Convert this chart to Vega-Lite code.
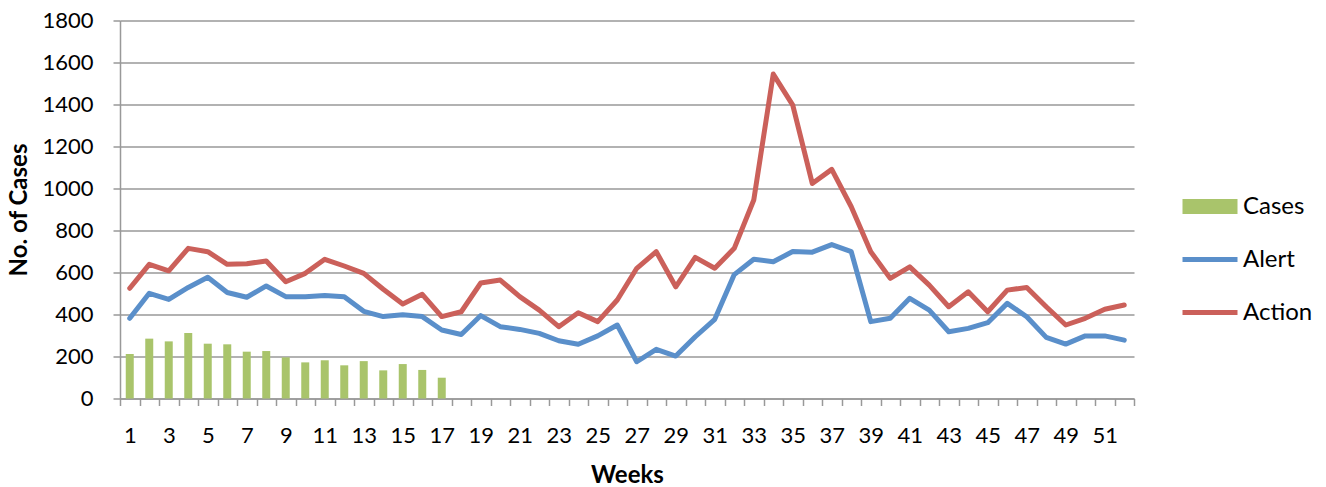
{
  "$schema": "https://vega.github.io/schema/vega-lite/v6.json",
  "width": 1014,
  "height": 378,
  "autosize": {"type": "none"},
  "padding": {"left": 120, "top": 20.5, "right": 192, "bottom": 88.5},
  "config": {
    "view": {"stroke": null},
    "font": "Lato",
    "axis": {"labelFont": "Lato", "titleFont": "Lato", "labelColor": "#000000", "titleColor": "#000000"}
  },
  "data": {
    "values": [
      {"week": 1, "series": "Cases", "value": 212},
      {"week": 2, "series": "Cases", "value": 285},
      {"week": 3, "series": "Cases", "value": 272},
      {"week": 4, "series": "Cases", "value": 312},
      {"week": 5, "series": "Cases", "value": 261},
      {"week": 6, "series": "Cases", "value": 258},
      {"week": 7, "series": "Cases", "value": 223},
      {"week": 8, "series": "Cases", "value": 226},
      {"week": 9, "series": "Cases", "value": 196},
      {"week": 10, "series": "Cases", "value": 172},
      {"week": 11, "series": "Cases", "value": 182},
      {"week": 12, "series": "Cases", "value": 158},
      {"week": 13, "series": "Cases", "value": 178},
      {"week": 14, "series": "Cases", "value": 134},
      {"week": 15, "series": "Cases", "value": 164},
      {"week": 16, "series": "Cases", "value": 136},
      {"week": 17, "series": "Cases", "value": 99},
      {"week": 1, "series": "Alert", "value": 382},
      {"week": 2, "series": "Alert", "value": 501},
      {"week": 3, "series": "Alert", "value": 472},
      {"week": 4, "series": "Alert", "value": 529},
      {"week": 5, "series": "Alert", "value": 577},
      {"week": 6, "series": "Alert", "value": 505},
      {"week": 7, "series": "Alert", "value": 482},
      {"week": 8, "series": "Alert", "value": 536},
      {"week": 9, "series": "Alert", "value": 485},
      {"week": 10, "series": "Alert", "value": 485},
      {"week": 11, "series": "Alert", "value": 491},
      {"week": 12, "series": "Alert", "value": 485},
      {"week": 13, "series": "Alert", "value": 415},
      {"week": 14, "series": "Alert", "value": 390},
      {"week": 15, "series": "Alert", "value": 399},
      {"week": 16, "series": "Alert", "value": 390},
      {"week": 17, "series": "Alert", "value": 326},
      {"week": 18, "series": "Alert", "value": 305},
      {"week": 19, "series": "Alert", "value": 395},
      {"week": 20, "series": "Alert", "value": 342},
      {"week": 21, "series": "Alert", "value": 329},
      {"week": 22, "series": "Alert", "value": 310},
      {"week": 23, "series": "Alert", "value": 275},
      {"week": 24, "series": "Alert", "value": 258},
      {"week": 25, "series": "Alert", "value": 298},
      {"week": 26, "series": "Alert", "value": 350},
      {"week": 27, "series": "Alert", "value": 175},
      {"week": 28, "series": "Alert", "value": 234},
      {"week": 29, "series": "Alert", "value": 202},
      {"week": 30, "series": "Alert", "value": 294},
      {"week": 31, "series": "Alert", "value": 377},
      {"week": 32, "series": "Alert", "value": 590},
      {"week": 33, "series": "Alert", "value": 663},
      {"week": 34, "series": "Alert", "value": 651},
      {"week": 35, "series": "Alert", "value": 700},
      {"week": 36, "series": "Alert", "value": 697},
      {"week": 37, "series": "Alert", "value": 733},
      {"week": 38, "series": "Alert", "value": 699},
      {"week": 39, "series": "Alert", "value": 366},
      {"week": 40, "series": "Alert", "value": 382},
      {"week": 41, "series": "Alert", "value": 477},
      {"week": 42, "series": "Alert", "value": 421},
      {"week": 43, "series": "Alert", "value": 318},
      {"week": 44, "series": "Alert", "value": 334},
      {"week": 45, "series": "Alert", "value": 361},
      {"week": 46, "series": "Alert", "value": 453},
      {"week": 47, "series": "Alert", "value": 389},
      {"week": 48, "series": "Alert", "value": 291},
      {"week": 49, "series": "Alert", "value": 259},
      {"week": 50, "series": "Alert", "value": 298},
      {"week": 51, "series": "Alert", "value": 298},
      {"week": 52, "series": "Alert", "value": 278},
      {"week": 1, "series": "Action", "value": 525},
      {"week": 2, "series": "Action", "value": 639},
      {"week": 3, "series": "Action", "value": 608},
      {"week": 4, "series": "Action", "value": 715},
      {"week": 5, "series": "Action", "value": 699},
      {"week": 6, "series": "Action", "value": 639},
      {"week": 7, "series": "Action", "value": 642},
      {"week": 8, "series": "Action", "value": 655},
      {"week": 9, "series": "Action", "value": 556},
      {"week": 10, "series": "Action", "value": 596},
      {"week": 11, "series": "Action", "value": 663},
      {"week": 12, "series": "Action", "value": 631},
      {"week": 13, "series": "Action", "value": 596},
      {"week": 14, "series": "Action", "value": 520},
      {"week": 15, "series": "Action", "value": 450},
      {"week": 16, "series": "Action", "value": 496},
      {"week": 17, "series": "Action", "value": 390},
      {"week": 18, "series": "Action", "value": 413},
      {"week": 19, "series": "Action", "value": 550},
      {"week": 20, "series": "Action", "value": 564},
      {"week": 21, "series": "Action", "value": 485},
      {"week": 22, "series": "Action", "value": 421},
      {"week": 23, "series": "Action", "value": 342},
      {"week": 24, "series": "Action", "value": 408},
      {"week": 25, "series": "Action", "value": 366},
      {"week": 26, "series": "Action", "value": 469},
      {"week": 27, "series": "Action", "value": 620},
      {"week": 28, "series": "Action", "value": 699},
      {"week": 29, "series": "Action", "value": 532},
      {"week": 30, "series": "Action", "value": 672},
      {"week": 31, "series": "Action", "value": 620},
      {"week": 32, "series": "Action", "value": 715},
      {"week": 33, "series": "Action", "value": 945},
      {"week": 34, "series": "Action", "value": 1545},
      {"week": 35, "series": "Action", "value": 1397},
      {"week": 36, "series": "Action", "value": 1024},
      {"week": 37, "series": "Action", "value": 1091},
      {"week": 38, "series": "Action", "value": 913},
      {"week": 39, "series": "Action", "value": 699},
      {"week": 40, "series": "Action", "value": 572},
      {"week": 41, "series": "Action", "value": 627},
      {"week": 42, "series": "Action", "value": 540},
      {"week": 43, "series": "Action", "value": 437},
      {"week": 44, "series": "Action", "value": 508},
      {"week": 45, "series": "Action", "value": 413},
      {"week": 46, "series": "Action", "value": 516},
      {"week": 47, "series": "Action", "value": 529},
      {"week": 48, "series": "Action", "value": 437},
      {"week": 49, "series": "Action", "value": 350},
      {"week": 50, "series": "Action", "value": 382},
      {"week": 51, "series": "Action", "value": 425},
      {"week": 52, "series": "Action", "value": 445}
    ]
  },
  "encoding": {
    "x": {
      "field": "week",
      "type": "ordinal",
      "scale": {"paddingInner": 0, "paddingOuter": 0},
      "axis": {
        "title": "Weeks",
        "titleFontSize": 24,
        "titleFontWeight": "bold",
        "titleY": 77,
        "titleBaseline": "middle",
        "labelFontSize": 22,
        "labelAngle": 0,
        "labelPadding": 20,
        "labelOverlap": false,
        "labelExpr": "datum.value % 2 == 1 ? datum.label : ''",
        "tickBand": "extent",
        "tickSize": 7,
        "tickColor": "#999999",
        "tickWidth": 1.5,
        "domainColor": "#999999",
        "domainWidth": 1.5,
        "grid": false
      }
    },
    "y": {
      "field": "value",
      "type": "quantitative",
      "scale": {"domain": [0, 1800]},
      "axis": {
        "title": "No. of Cases",
        "titleFontSize": 24,
        "titleFontWeight": "bold",
        "titleX": -101,
        "titleBaseline": "middle",
        "format": "d",
        "values": [0, 200, 400, 600, 800, 1000, 1200, 1400, 1600, 1800],
        "labelFontSize": 22,
        "labelPadding": 20,
        "tickSize": 7,
        "tickColor": "#999999",
        "tickWidth": 1.5,
        "domainColor": "#999999",
        "domainWidth": 1.5,
        "grid": true,
        "gridColor": "#999999",
        "gridWidth": 1.5
      }
    }
  },
  "layer": [
    {
      "transform": [{"filter": "datum.series == 'Cases'"}],
      "mark": {"type": "bar", "size": 8, "color": "#A9C46B"}
    },
    {
      "transform": [{"filter": "datum.series != 'Cases'"}],
      "mark": {"type": "line", "strokeWidth": 5, "strokeJoin": "round", "strokeCap": "round"},
      "encoding": {
        "color": {
          "field": "series",
          "type": "nominal",
          "scale": {"domain": ["Cases", "Alert", "Action"], "range": ["#A9C46B", "#5A8FCA", "#CB605A"]},
          "legend": {
            "orient": "none",
            "legendX": 1078,
            "legendY": 174,
            "title": null,
            "padding": 0,
            "symbolType": "stroke",
            "symbolSize": 3025,
            "symbolStrokeWidth": 5,
            "labelFont": "Lato",
            "labelFontSize": 24,
            "labelColor": "#000000",
            "labelOffset": 21,
            "rowPadding": 29,
            "encode": {
              "symbols": {
                "update": {
                  "shape": {"signal": "datum.value === 'Cases' ? 'M-1,-0.27H1V0.27H-1Z' : 'stroke'"},
                  "fill": {"signal": "datum.value === 'Cases' ? '#A9C46B' : 'transparent'"},
                  "strokeWidth": {"signal": "datum.value === 'Cases' ? 0 : 5"}
                }
              }
            }
          }
        }
      }
    }
  ]
}
